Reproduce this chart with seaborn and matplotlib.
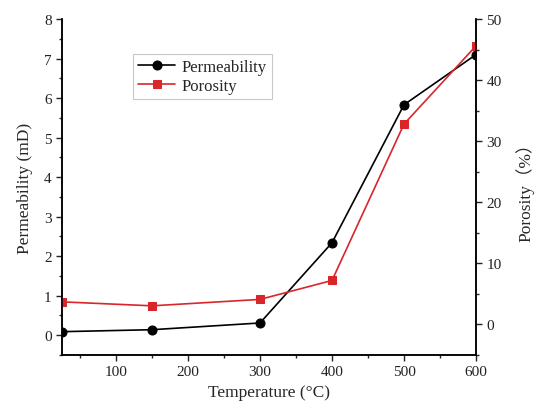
import matplotlib
matplotlib.use("Agg")
import matplotlib.pyplot as plt
import seaborn as sns
import pandas as pd
from matplotlib.ticker import MultipleLocator

temperature = [25, 150, 300, 400, 500, 600]
permeability = [0.09, 0.14, 0.31, 2.34, 5.83, 7.1]
porosity = [3.7, 3.05, 4.1, 7.2, 32.8, 45.6]

sns.set_style("ticks")
plt.rcParams['font.family'] = ['Liberation Serif', 'Noto Sans CJK SC', 'DejaVu Sans']
plt.rcParams['mathtext.fontset'] = 'stix'

df = pd.DataFrame({"T": temperature, "perm": permeability, "por": porosity})

fig = plt.figure(figsize=(5.36, 4.06), dpi=100)
ax = fig.add_axes([62/536, 1-356/406, (476-62)/536, (356-20)/406])
ax2 = ax.twinx()

red = "#d8262b"
sns.lineplot(data=df, x="T", y="perm", ax=ax, color="black", marker="o",
             markersize=6.5, markeredgecolor="black", linewidth=1.2, label="Permeability", legend=False)
sns.lineplot(data=df, x="T", y="por", ax=ax2, color=red, marker="s",
             markersize=5.5, markeredgecolor=red, linewidth=1.2, label="Porosity", legend=False)

ax.set_xlim(25, 600)
ax.set_ylim(-0.5, 8)
ax2.set_ylim(-5, 50)

ax.xaxis.set_major_locator(MultipleLocator(100))
ax.xaxis.set_minor_locator(MultipleLocator(50))
ax.yaxis.set_major_locator(MultipleLocator(1))
ax.yaxis.set_minor_locator(MultipleLocator(0.5))
ax2.yaxis.set_major_locator(MultipleLocator(10))
ax2.yaxis.set_minor_locator(MultipleLocator(5))

ax.set_xticks([100, 200, 300, 400, 500, 600])

for a in (ax, ax2):
    a.tick_params(which='major', direction='out', length=4, width=1, labelsize=11, colors='#222222')
    a.tick_params(which='minor', direction='out', length=2.5, width=1)
    a.spines['top'].set_visible(False)
    for s in a.spines.values():
        s.set_linewidth(1.1)
        s.set_color('black')

ax.set_xlabel("Temperature (°C)", fontsize=12.5, labelpad=4)
ax.set_ylabel("Permeability (mD)", fontsize=12.5, labelpad=8)
ax2.set_ylabel("Porosity（%）", fontsize=12.5, labelpad=10)

h1, l1 = ax.get_legend_handles_labels()
h2, l2 = ax2.get_legend_handles_labels()
leg = ax.legend(h1 + h2, l1 + l2, loc='upper left', bbox_to_anchor=(0.172, 0.896),
                borderaxespad=0,
                fontsize=12, frameon=True, fancybox=False, edgecolor='#bbbbbb',
                handlelength=2.2, borderpad=0.3, labelspacing=0.2, handletextpad=0.4)
leg.get_frame().set_linewidth(0.8)

fig.savefig("out.png", dpi=100)
